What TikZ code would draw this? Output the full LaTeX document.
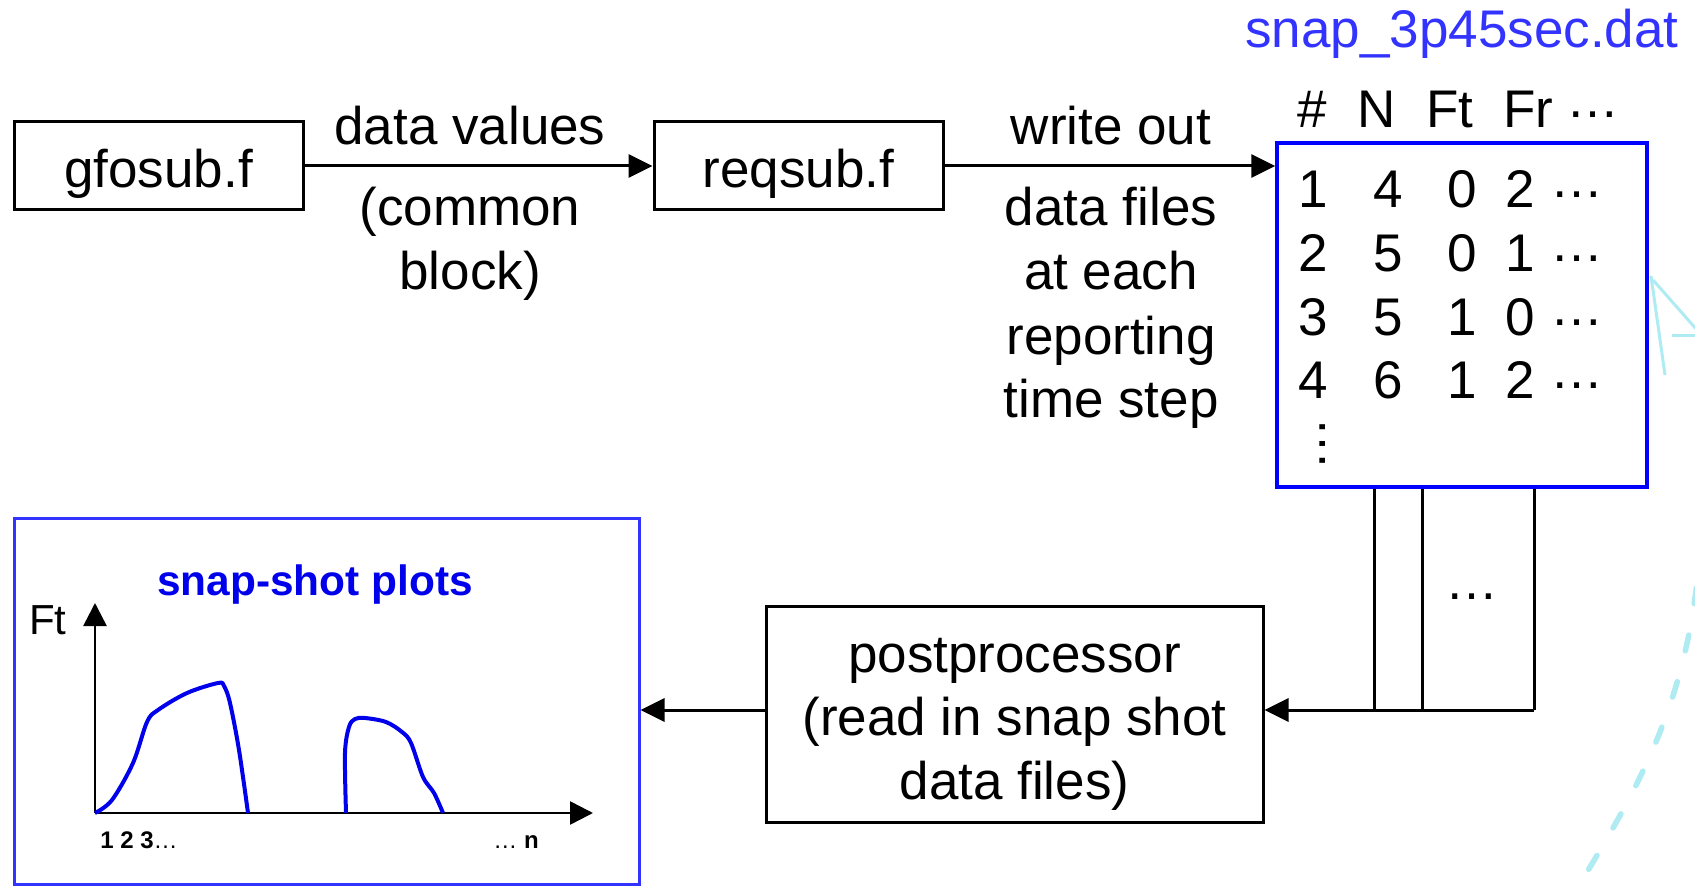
\documentclass[tikz,border=0pt]{standalone}
\usepackage{fontspec}
\setmainfont{Liberation Sans}
\usetikzlibrary{arrows.meta}
\definecolor{lblue}{RGB}{51,51,255}
\definecolor{tblue}{RGB}{0,0,255}
\definecolor{pblue}{RGB}{0,0,235}
\definecolor{cyanish}{RGB}{175,235,242}
\begin{document}
\begin{tikzpicture}[x=0.5pt,y=-0.5pt,
  box/.style={draw=black, line width=1.5pt, inner sep=0pt, fill=white},
  txt/.style={inner sep=0pt, anchor=base, font=\fontsize{26.5}{32}\selectfont},
  dots/.style={inner sep=0pt, anchor=center, font=\fontsize{26.5}{32}\selectfont},
  arr/.style={line width=1.5pt, -{Triangle[length=12pt,width=11.5pt]}},
  ln/.style={line width=1.5pt},
  axis/.style={line width=1.3pt, -{Triangle[length=11.5pt,width=11.5pt]}},
  curve/.style={pblue, line width=2pt, line join=round},
  deco/.style={cyanish, line width=2.8pt, line cap=round},
]
\useasboundingbox (0,0) rectangle (1695,886);

% faint background decoration
\draw[deco, dash pattern=on 8pt off 16pt, dash phase=4pt] (1702,500) .. controls (1700,690) and (1640,785) .. (1570,900);
\draw[cyanish, line width=1.5pt] (1651,276) -- (1665,375);
\draw[cyanish, line width=1.5pt] (1653,280) -- (1697,330);
\draw[cyanish, line width=1.5pt] (1672,336) -- (1697,336);

% top boxes
\node[box, minimum width=144.5pt, minimum height=44pt] (gfo) at (158.5,166) {};
\node[txt] (gfot) at (158.5,188) {gfosub.f};
\node[box, minimum width=144.5pt, minimum height=44pt] (req) at (798.5,166) {};
\node[txt] (reqt) at (798.5,188) {reqsub.f};

% table box
\node[draw=tblue, line width=1.7pt, inner sep=0pt, minimum width=185pt, minimum height=172pt] (tab) at (1462,315) {};
\node[txt, text=lblue] (fname) at (1462,48) {snap\_3p45sec.dat};

% header
\node[txt] (h1) at (1312,128) {\#};
\node[txt] (h2) at (1377,128) {N};
\node[txt] (h3) at (1450,128) {Ft};
\node[txt] (h4) at (1528,128) {Fr};
\node[dots] (h5) at (1593,115) {…};

% rows
\foreach \r/\yy/\a/\b/\c/\d in {1/208/1/4/0/2, 2/272/2/5/0/1, 3/336/3/5/1/0, 4/399/4/6/1/2}{
  \node[txt] (r\r c1) at (1313,\yy) {\a};
  \node[txt] (r\r c2) at (1388,\yy) {\b};
  \node[txt] (r\r c3) at (1462,\yy) {\c};
  \node[txt] (r\r c4) at (1520,\yy) {\d};
  \node[dots] (r\r c5) at (1577,\yy-13) {…};
}
\node[dots, rotate=90] (vd) at (1323,444) {…};

% edge labels
\node[txt] (l1) at (470,145) {data values};
\node[txt] (l2) at (470,226) {(common};
\node[txt] (l3) at (470,290) {block)};
\node[txt] (w1) at (1111,145) {write out};
\node[txt] (w2) at (1111,226) {data files};
\node[txt] (w3) at (1111,290) {at each};
\node[txt] (w4) at (1111,355) {reporting};
\node[txt] (w5) at (1111,418) {time step};

% top arrows
\draw[arr] (gfo.east) -- (req.west);
\draw[arr] (req.east) -- (req.east -| tab.west);

% postprocessor
\node[box, minimum width=248.5pt, minimum height=108pt] (post) at (1014.5,714.5) {};
\node[txt] (p1) at (1014.5,672) {postprocessor};
\node[txt] (p2) at (1014.5,735) {(read in snap shot};
\node[txt] (p3) at (1014.5,799) {data files)};

% file lines
\coordinate (j1) at (1374,710);
\coordinate (j2) at (1422,710);
\coordinate (j3) at (1534,710);
\draw[ln] (tab.south -| j1) -- (j1);
\draw[ln] (tab.south -| j2) -- (j2);
\draw[ln] (tab.south -| j3) -- (j3);
\draw[arr] (j3) -- (post.east |- j1);
\node[dots] (md) at (1472,597) {…};

% plot box
\node[draw=lblue, line width=1.5pt, inner sep=0pt, minimum width=312.5pt, minimum height=182.5pt] (plot) at (326.5,701.5) {};
\draw[arr] (post.west |- j1) -- (plot.east |- j1);

\node[inner sep=0pt, anchor=base, font=\fontsize{21.2}{25}\selectfont\bfseries, text=pblue] (ptitle) at (315,596) {snap-shot plots};
\node[inner sep=0pt, anchor=base, font=\fontsize{21}{25}\selectfont] (ft) at (48,634) {Ft};
\node[inner sep=0pt, anchor=base, font=\fontsize{12}{14}\selectfont] (xl) at (139,848) {\textbf{1 2 3}…};
\node[inner sep=0pt, anchor=base, font=\fontsize{12}{14}\selectfont] (xr) at (516,848) {… \textbf{n}};

\coordinate (o) at (95,813);
\coordinate (ytip) at (95,603);
\coordinate (xtip) at (593,813);
\draw[axis] (o) -- (ytip);
\draw[axis] (o) -- (xtip);

\draw[curve] plot[smooth, tension=0.55] coordinates {(95,813) (112,800) (133,763) (147,722) (158,710) (187,693) (218,683) (224,686) (230,703) (239,750) (248,813)};
\draw[curve] plot[smooth, tension=0.55] coordinates {(346,813) (345,753) (349,727) (355,719) (365,718) (386,722) (402,732) (411,743) (423,777) (434,793) (443,813)};
\end{tikzpicture}
\end{document}
